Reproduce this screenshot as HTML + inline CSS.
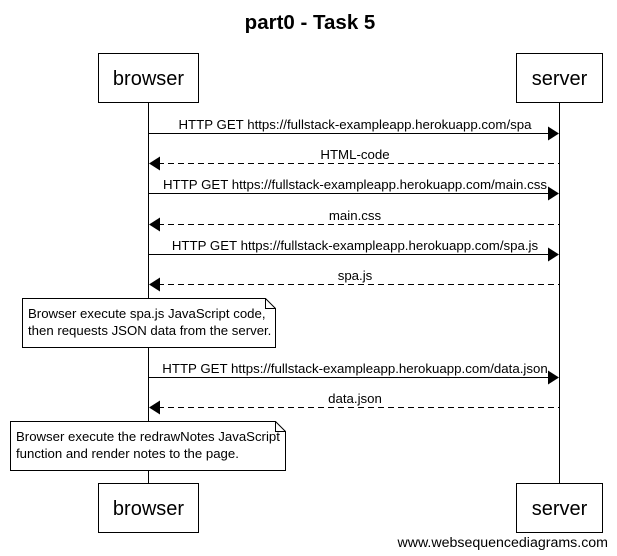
<!DOCTYPE html>
<html><head><style>
body{margin:0;background:#fff}
svg{display:block;font-family:"Liberation Sans",sans-serif}
</style></head><body>
<svg width="617" height="556" viewBox="0 0 617 556" xmlns="http://www.w3.org/2000/svg">
<rect width="617" height="556" fill="#fff"/>
<text x="310" y="29" text-anchor="middle" font-size="20.5" font-weight="bold">part0 - Task 5</text>
<line x1="148.5" y1="102" x2="148.5" y2="483" stroke="#000"/>
<line x1="559.5" y1="102" x2="559.5" y2="483" stroke="#000"/>
<g fill="#fff" stroke="#000">
<rect x="98.5" y="53.5" width="100" height="49"/>
<rect x="516.5" y="53.5" width="86" height="49"/>
<rect x="98.5" y="483.5" width="100" height="49"/>
<rect x="516.5" y="483.5" width="86" height="49"/>
</g>
<g font-size="20" text-anchor="middle">
<text x="148.5" y="85">browser</text>
<text x="559.5" y="85">server</text>
<text x="148.5" y="515">browser</text>
<text x="559.5" y="515">server</text>
</g>
<g stroke="#000">
<line x1="148.5" y1="133.5" x2="549" y2="133.5"/>
<line x1="158" y1="163.5" x2="559" y2="163.5" stroke-dasharray="6,4"/>
<line x1="148.5" y1="193.5" x2="549" y2="193.5"/>
<line x1="158" y1="224.5" x2="559" y2="224.5" stroke-dasharray="6,4"/>
<line x1="148.5" y1="254.5" x2="549" y2="254.5"/>
<line x1="158" y1="284.5" x2="559" y2="284.5" stroke-dasharray="6,4"/>
<line x1="148.5" y1="377.5" x2="549" y2="377.5"/>
<line x1="158" y1="407.5" x2="559" y2="407.5" stroke-dasharray="6,4"/>
</g>
<g fill="#000">
<polygon points="559,133.5 548,126.5 548,140.5"/>
<polygon points="149,163.5 160,156.5 160,170.5"/>
<polygon points="559,193.5 548,186.5 548,200.5"/>
<polygon points="149,224.5 160,217.5 160,231.5"/>
<polygon points="559,254.5 548,247.5 548,261.5"/>
<polygon points="149,284.5 160,277.5 160,291.5"/>
<polygon points="559,377.5 548,370.5 548,384.5"/>
<polygon points="149,407.5 160,400.5 160,414.5"/>
</g>
<g font-size="13.25" text-anchor="middle">
<text x="355" y="129">HTTP GET https://fullstack-exampleapp.herokuapp.com/spa</text>
<text x="355" y="159">HTML-code</text>
<text x="355" y="189">HTTP GET https://fullstack-exampleapp.herokuapp.com/main.css</text>
<text x="355" y="220">main.css</text>
<text x="355" y="250">HTTP GET https://fullstack-exampleapp.herokuapp.com/spa.js</text>
<text x="355" y="280">spa.js</text>
<text x="355" y="373">HTTP GET https://fullstack-exampleapp.herokuapp.com/data.json</text>
<text x="355" y="403">data.json</text>
</g>
<g fill="#fff" stroke="#000">
<path d="M22.5 298.5 H265.5 L275.5 308.5 V347.5 H22.5 Z"/>
<path d="M265.5 298.5 V308.5 H275.5" fill="none"/>
<path d="M10.5 421.5 H275.5 L285.5 431.5 V470.5 H10.5 Z"/>
<path d="M275.5 421.5 V431.5 H285.5" fill="none"/>
</g>
<g font-size="13.2">
<text x="28" y="318">Browser execute spa.js JavaScript code,</text>
<text x="28" y="335">then requests JSON data from the server.</text>
<text x="16" y="441">Browser execute the redrawNotes JavaScript</text>
<text x="16" y="458">function and render notes to the page.</text>
</g>
<text x="608" y="547" text-anchor="end" font-size="14.2">www.websequencediagrams.com</text>
</svg>
</body></html>
